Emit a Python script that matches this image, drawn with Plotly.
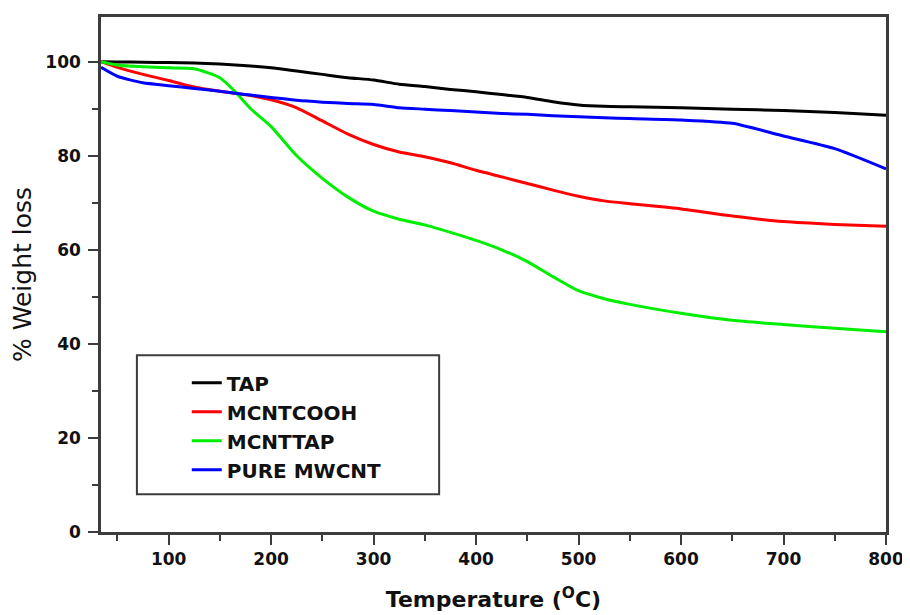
import plotly.graph_objects as go

temperature = [34, 50, 75, 100, 125, 150, 165, 180, 200, 225, 250, 275, 300, 325, 350,
               375, 400, 425, 450, 475, 500, 525, 550, 600, 650, 700, 750, 800]

tap = [100.0, 99.95, 99.9, 99.8, 99.7, 99.5, 99.3, 99.1, 98.7, 98.0, 97.3, 96.6, 96.1, 95.2, 94.7,
       94.1, 93.6, 93.0, 92.4, 91.5, 90.8, 90.5, 90.4, 90.2, 89.9, 89.6, 89.2, 88.6]

mcntcooh = [100.0, 98.8, 97.3, 96.0, 94.6, 93.7, 93.3, 92.8, 91.9, 90.2, 87.4, 84.6, 82.4, 80.8, 79.8,
            78.5, 76.9, 75.5, 74.1, 72.7, 71.4, 70.4, 69.8, 68.7, 67.2, 66.0, 65.4, 65.0]

mcnttap = [100.0, 99.3, 98.9, 98.7, 98.5, 96.6, 93.6, 90.0, 86.2, 80.0, 75.2, 71.2, 68.2, 66.5, 65.3,
           63.7, 62.0, 60.0, 57.5, 54.3, 51.3, 49.6, 48.4, 46.5, 45.0, 44.1, 43.3, 42.6]

pure_mwcnt = [98.8, 96.9, 95.5, 94.9, 94.3, 93.7, 93.3, 92.9, 92.4, 91.8, 91.4, 91.1, 90.9, 90.2, 89.9,
              89.6, 89.3, 89.0, 88.8, 88.5, 88.3, 88.1, 87.9, 87.6, 86.9, 84.2, 81.5, 77.2]

series_names = ["TAP", "MCNTCOOH", "MCNTTAP", "PURE MWCNT"]
series_values = [tap, mcntcooh, mcnttap, pure_mwcnt]
series_colors = ["#000000", "#ff0000", "#00ee00", "#0000ff"]

x_tickvals = [100, 200, 300, 400, 500, 600, 700, 800]
x_minor = [50, 150, 250, 350, 450, 550, 650, 750]
y_tickvals = [0, 20, 40, 60, 80, 100]
y_minor = [10, 30, 50, 70, 90]

FONT = "DejaVu Sans, Liberation Sans, Arial, sans-serif"
AX = "#3c3c3c"

fig = go.Figure()
for name, vals, col in zip(series_names, series_values, series_colors):
    fig.add_trace(go.Scatter(
        x=temperature, y=vals, name=name, mode="lines",
        line=dict(color=col, width=3, shape="spline", smoothing=0.6),
    ))

axis_common = dict(
    showline=True, linecolor=AX, linewidth=2.5, mirror=True,
    ticks="outside", ticklen=10, tickwidth=2, tickcolor=AX,
    showgrid=False, zeroline=False,
    tickfont=dict(family=FONT, size=17, color="#111", weight="bold"),
)

# page body has an 8px left/top margin: figure is 902x607 so page stays 910x615
W, H = 902, 607
PL, PR, PT, PB = 93, 880, 6, 525   # plot area in figure pixels
pw, ph = PR - PL, PB - PT

def fx(px):  # screen x -> paper fraction
    return (px - 8 - PL) / pw

def fy(py):  # screen y -> paper fraction
    return (PB - (py - 8)) / ph

fig.update_layout(
    width=W, height=H,
    margin=dict(l=PL, r=W - PR, t=PT, b=H - PB),
    paper_bgcolor="white", plot_bgcolor="white",
    showlegend=True,
    legend=dict(
        x=fx(187), y=fy(363), xanchor="left", yanchor="top",
        bgcolor="rgba(0,0,0,0)", borderwidth=0,
        font=dict(family=FONT, size=20, color="#111", weight="bold"),
        tracegroupgap=0,
    ),
    xaxis=dict(
        range=[34, 800], tickvals=x_tickvals,
        minor=dict(ticks="outside", ticklen=6, tickwidth=2, tickcolor=AX, tickvals=x_minor),
        title=dict(text="Temperature (<sup>O</sup>C)", standoff=24,
                   font=dict(family=FONT, size=22, color="#111", weight="bold")),
        **axis_common,
    ),
    yaxis=dict(
        range=[0, 109.5], tickvals=y_tickvals,
        minor=dict(ticks="outside", ticklen=6, tickwidth=2, tickcolor=AX, tickvals=y_minor),
        ticklabelstandoff=4,
        title=dict(text="% Weight loss", standoff=14,
                   font=dict(family=FONT, size=25, color="#111")),
        **axis_common,
    ),
    shapes=[dict(
        type="rect", xref="paper", yref="paper",
        x0=fx(137), x1=fx(440), y0=fy(495), y1=fy(355),
        line=dict(color=AX, width=2), fillcolor="rgba(0,0,0,0)",
    )],
)

fig.write_html("out.html")
